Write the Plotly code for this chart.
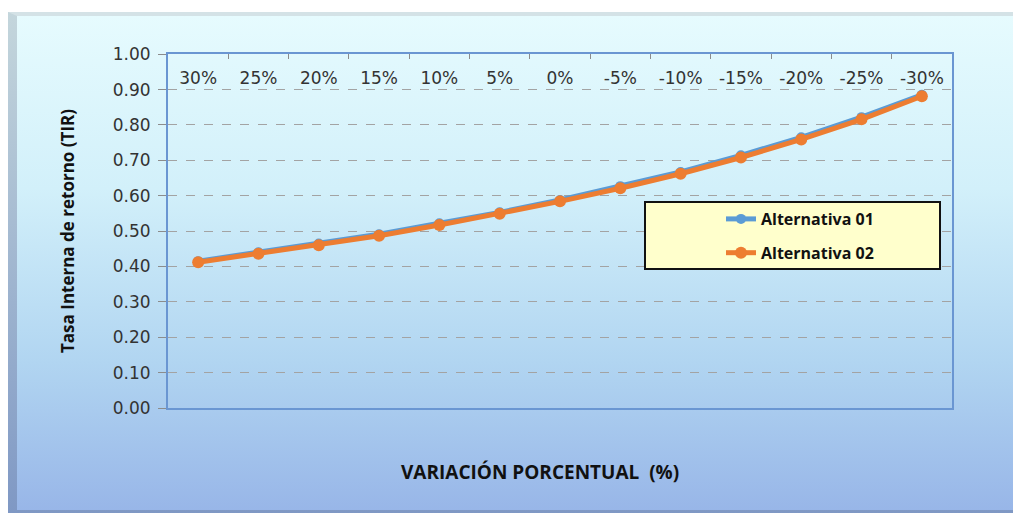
import base64
import plotly.graph_objects as go

# Sensitivity of the internal rate of return to a percentage variation
variacion = ["30%", "25%", "20%", "15%", "10%", "5%", "0%",
             "-5%", "-10%", "-15%", "-20%", "-25%", "-30%"]
alternativa_01 = [0.415, 0.440, 0.465, 0.491, 0.522, 0.553, 0.588,
                  0.627, 0.667, 0.714, 0.765, 0.822, 0.885]
alternativa_02 = [0.412, 0.436, 0.460, 0.487, 0.517, 0.549, 0.584,
                  0.621, 0.662, 0.708, 0.759, 0.816, 0.881]
y_ticks = [0.0, 0.1, 0.2, 0.3, 0.4, 0.5, 0.6, 0.7, 0.8, 0.9, 1.0]

W, H = 1013, 516
L, R, T, B = 168, 61, 54, 108
pw, ph = W - L - R, H - T - B

# Framed chart area with a vertical cyan-to-blue gradient and a bevelled edge
svg = f"""<svg xmlns='http://www.w3.org/2000/svg' width='{W}' height='{H}' viewBox='0 0 {W} {H}'>
<defs>
<linearGradient id='g' x1='0' y1='0' x2='0' y2='1'>
<stop offset='0' stop-color='#e6fbfe'/>
<stop offset='0.35' stop-color='#d2f0fa'/>
<stop offset='0.7' stop-color='#b1d5f1'/>
<stop offset='1' stop-color='#98b6e8'/>
</linearGradient>
<linearGradient id='e' x1='0' y1='0' x2='0' y2='1'>
<stop offset='0' stop-color='#c4d6dc'/>
<stop offset='1' stop-color='#7f98c4'/>
</linearGradient>
</defs>
<rect x='0' y='0' width='{W}' height='{H}' fill='#ffffff'/>
<rect x='8' y='12' width='{W - 8}' height='{H - 15}' fill='url(#e)'/>
<rect x='17' y='16' width='{W - 17}' height='{H - 22}' fill='url(#g)'/>
<polygon points='8,12 {W},12 {W},16 17,16' fill='#d4e2e6'/>
</svg>"""
bg_src = "data:image/svg+xml;base64," + base64.b64encode(svg.encode()).decode()

title_font = dict(family="Open Sans", color="#111111", weight="bold")

fig = go.Figure()

fig.add_trace(go.Scatter(
    x=variacion, y=alternativa_01, name="Alternativa 01",
    mode="lines+markers", legendgroup="a1", legendrank=1,
    line=dict(color="#5b9bd5", width=5),
    marker=dict(color="#5b9bd5", size=10),
))
fig.add_trace(go.Scatter(
    x=variacion, y=alternativa_02, name="Alternativa 02",
    mode="lines+markers", legendgroup="a2", legendrank=2,
    line=dict(color="#ed7d31", width=5),
    marker=dict(color="#ed7d31", size=12),
))

fig.update_layout(
    width=W, height=H,
    margin=dict(l=L, r=R, t=T, b=B, pad=0),
    paper_bgcolor="#ffffff",
    plot_bgcolor="#e6e6e6",
    showlegend=True,
    legend=dict(
        x=(721 - L) / pw, y=(H - B - 202) / ph,
        xanchor="left", yanchor="top",
        bgcolor="rgba(0,0,0,0)", borderwidth=0,
        font=dict(size=16, **title_font),
        traceorder="grouped", tracegroupgap=10,
    ),
    images=[dict(
        source=bg_src, xref="paper", yref="paper",
        x=-L / pw, y=1 + T / ph, sizex=W / pw, sizey=H / ph,
        xanchor="left", yanchor="top", sizing="stretch", layer="below",
    )],
    shapes=[dict(
        type="rect", xref="paper", yref="paper",
        x0=(645 - L) / pw, x1=(940 - L) / pw,
        y0=(H - B - 269) / ph, y1=(H - B - 202) / ph,
        fillcolor="#ffffcc", line=dict(color="#111111", width=2),
        layer="above",
    )],
    annotations=[dict(
        text="VARIACIÓN PORCENTUAL  (%)",
        xref="paper", yref="paper",
        x=(540 - L) / pw, y=-(472 - (H - B)) / ph,
        xanchor="center", yanchor="middle", showarrow=False,
        font=dict(size=19, **title_font),
    )],
)

# category labels sit just under the top edge of the plot area
fig.update_xaxes(
    type="category", range=[-0.5, len(variacion) - 0.5],
    side="top", ticklabelstandoff=-39,
    tickson="boundaries", ticks="inside", ticklen=5,
    tickcolor="#8c8c8c", tickwidth=1,
    tickfont=dict(family="DejaVu Sans", size=17, color="#333333"),
    showgrid=False, zeroline=False,
    showline=True, linecolor="#6a96d2", linewidth=2, mirror=True,
    fixedrange=True,
)
fig.update_yaxes(
    range=[0, 1.0005], tickvals=y_ticks, tickformat=".2f",
    ticks="outside", ticklen=8, tickcolor="#8c8c8c", tickwidth=1,
    ticklabelstandoff=4,
    tickfont=dict(family="DejaVu Sans", size=17, color="#333333"),
    showgrid=True, gridcolor="#a3a3a3", gridwidth=1, griddash="dash",
    zeroline=False,
    showline=True, linecolor="#6a96d2", linewidth=2, mirror=True,
    title=dict(text="Tasa Interna de retorno (TIR)", standoff=34,
               font=dict(size=17, **title_font)),
    fixedrange=True,
)

fig.write_html("out.html")
